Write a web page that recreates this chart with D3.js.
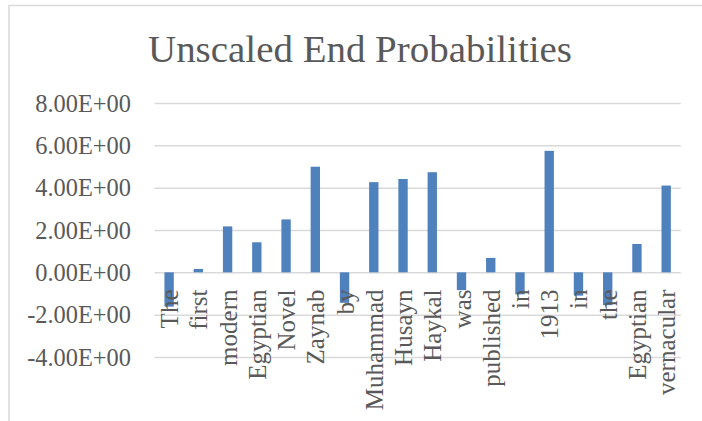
<!DOCTYPE html>
<html>
<head>
<meta charset="utf-8">
<script src="https://cdn.jsdelivr.net/npm/d3@7"></script>
<style>
  body { margin: 0; background: #fff; }
  text { font-family: "Liberation Serif", "Times New Roman", serif; fill: #595959; }
</style>
</head>
<body>
<div class="chart"></div>
<script>
const width = 702;
const height = 421;

// words of the sentence and their unscaled end probabilities
const words = ["The", "first", "modern", "Egyptian", "Novel", "Zaynab", "by", "Muhammad", "Husayn",
    "Haykal", "was", "published", "in", "1913", "in", "the", "Egyptian", "vernacular"];
const values = [-1.62, 0.16, 2.17, 1.42, 2.5, 4.99, -1.44, 4.26, 4.41,
    4.73, -0.84, 0.68, -1.04, 5.74, -1.1, -1.55, 1.34, 4.1];
const yTicks = [-4, -2, 0, 2, 4, 6, 8];
const title = "Unscaled End Probabilities";

const svg = d3.select(".chart").append("svg").attr("width", width).attr("height", height);

// chart frame
svg.append("rect")
    .attr("x", 9).attr("y", 5.5)
    .attr("width", 720).attr("height", 440)
    .attr("fill", "none").attr("stroke", "#d9d9d9").attr("stroke-width", 1.5);

svg.append("text")
    .attr("x", 360).attr("y", 62)
    .attr("text-anchor", "middle")
    .attr("font-size", 38)
    .attr("textLength", 424).attr("lengthAdjust", "spacingAndGlyphs")
    .text(title);

const x = d3.scaleBand().domain(d3.range(words.length)).range([154.5, 680.8]).paddingInner(0.68).paddingOuter(0.34);
const y = d3.scaleLinear().domain([-4, 8]).range([357, 103]);

// 8.00E+00 style labels
function sci(v) {
    if (v == 0) return "0.00E+00";
    let e = Math.floor(Math.log10(Math.abs(v)));
    let m = v / Math.pow(10, e);
    let s = e < 0 ? "-" : "+";
    return m.toFixed(2) + "E" + s + String(Math.abs(e)).padStart(2, "0");
}

const yAxis = d3.axisLeft(y).tickValues(yTicks).tickFormat(sci).tickSize(-(680.8 - 154.5)).tickPadding(23.5);
const gy = svg.append("g").attr("transform", "translate(154.5,0)").call(yAxis);
gy.select(".domain").remove();
gy.selectAll(".tick line").attr("stroke", "#d9d9d9").attr("stroke-width", 1.5);
gy.selectAll(".tick text").attr("font-size", 24.4).attr("fill", "#595959").attr("dy", "0.33em");

svg.append("g").selectAll("rect").data(values).enter().append("rect")
    .attr("x", (d, i) => x(i))
    .attr("y", d => y(Math.max(0, d)))
    .attr("width", x.bandwidth())
    .attr("height", d => Math.abs(y(d) - y(0)))
    .attr("fill", "#4f81bd");

// category labels, rotated, drawn over the bars
svg.append("g").selectAll("text").data(words).enter().append("text")
    .attr("transform", (d, i) => "translate(" + (x(i) + x.bandwidth() / 2) + "," + 289.5 + ") rotate(-90)")
    .attr("text-anchor", "end")
    .attr("dy", "0.36em")
    .attr("font-size", 25)
    .text(d => d);
</script>
</body>
</html>
